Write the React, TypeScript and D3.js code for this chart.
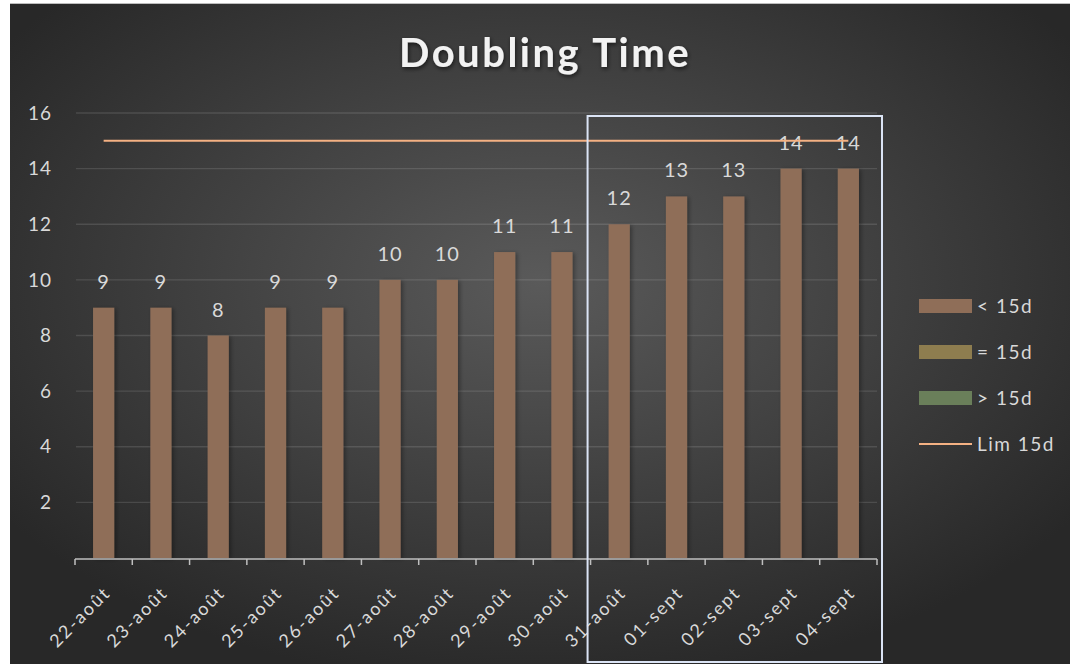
import React from "react";
import * as d3 from "d3";

const categories = ["22-août","23-août","24-août","25-août","26-août","27-août","28-août","29-août","30-août","31-août","01-sept","02-sept","03-sept","04-sept"];
const values = [9, 9, 8, 9, 9, 10, 10, 11, 11, 12, 13, 13, 14, 14];
const limitValue = 15;
const yTicks = [2, 4, 6, 8, 10, 12, 14, 16];
const legendItems = [
  { label: "< 15d", color: "#8f6e58", type: "rect" },
  { label: "= 15d", color: "#8e7d4f", type: "rect" },
  { label: "> 15d", color: "#6a7f5a", type: "rect" },
  { label: "Lim 15d", color: "#f4b183", type: "line" },
];
const highlightFrom = "31-août";

const W = 1070, H = 664;
const FONT = "Lato, 'Open Sans', sans-serif";

export default function App() {
  const x = d3.scaleBand<string>().domain(categories).range([75, 877]).paddingInner(0.63).paddingOuter(0.315);
  const xb = d3.scaleBand<string>().domain(categories).range([75, 877]);
  const y = d3.scaleLinear().domain([0, 16]).range([558, 113]);
  const hiX0 = xb(highlightFrom)! - 3;

  return (
    <svg width={W} height={H} style={{ position: "absolute", left: 0, top: 0 }} fontFamily={FONT}>
      <defs>
        <radialGradient id="bg" cx="50%" cy="42%" r="62%">
          <stop offset="0%" stopColor="#5a5a5a" />
          <stop offset="100%" stopColor="#282828" />
        </radialGradient>
        <filter id="tshadow" x="-10%" y="-30%" width="120%" height="160%">
          <feDropShadow dx="1" dy="2" stdDeviation="2" floodColor="#000" floodOpacity="0.6" />
        </filter>
        <filter id="bshadow" x="-30%" y="-10%" width="160%" height="120%">
          <feDropShadow dx="2" dy="1" stdDeviation="2" floodColor="#000" floodOpacity="0.35" />
        </filter>
      </defs>
      <rect x={0} y={0} width={W} height={H} fill="#ffffff" />
      <rect x={10} y={4} width={W - 10} height={H - 4} fill="url(#bg)" />
      <line x1={10} x2={W} y1={3.5} y2={3.5} stroke="#bdbdbd" strokeWidth={1} />

      <text x={545} y={67} textAnchor="middle" fontSize={40} fontWeight="bold" letterSpacing={2.5} fill="#f2f2f2" filter="url(#tshadow)">Doubling Time</text>

      {yTicks.map((t) => (
        <g key={t}>
          <line x1={76} x2={877} y1={y(t)} y2={y(t)} stroke="#ffffff" strokeOpacity={0.12} strokeWidth={1.3} />
          <text x={52} y={y(t)} dy="0.35em" textAnchor="end" fontSize={19} letterSpacing={1} fill="#d9d9d9">{t}</text>
        </g>
      ))}

      {categories.map((c, i) => (
        <g key={c}>
          <rect x={x(c)!} y={y(values[i])} width={x.bandwidth()} height={y(0) - y(values[i])} fill="#8f6e58" filter="url(#bshadow)" />
          <text x={x(c)! + x.bandwidth() / 2} y={y(values[i]) - 19} textAnchor="middle" fontSize={20} letterSpacing={1} fill="#d9d9d9">{values[i]}</text>
        </g>
      ))}

      <line x1={xb(categories[0])! + xb.bandwidth() / 2} x2={xb(categories[categories.length - 1])! + xb.bandwidth() / 2}
        y1={y(limitValue)} y2={y(limitValue)} stroke="#f4b183" strokeWidth={2} />

      <line x1={75} x2={877} y1={559} y2={559} stroke="#bfbfbf" strokeWidth={1.5} />
      {[...categories.map((c) => xb(c)!), 877].map((t, i) => (
        <line key={i} x1={t} x2={t} y1={559} y2={565} stroke="#bfbfbf" strokeWidth={1.5} />
      ))}
      {categories.map((c) => {
        const cx = xb(c)! + xb.bandwidth() / 2 + 8;
        return (
          <text key={c} transform={`translate(${cx},${594}) rotate(-45)`} textAnchor="end" fontSize={18} letterSpacing={2} fill="#d9d9d9">{c}</text>
        );
      })}

      <rect x={hiX0} y={116} width={882 - hiX0} height={546} fill="none" stroke="#dbe4f5" strokeWidth={2} />

      {legendItems.map((it, i) => {
        const cy = 306 + i * 46;
        return (
          <g key={it.label}>
            {it.type === "rect" ? (
              <rect x={919} y={cy - 7} width={53} height={14} fill={it.color} />
            ) : (
              <line x1={919} x2={972} y1={cy} y2={cy} stroke={it.color} strokeWidth={2} />
            )}
            <text x={977} y={cy} dy="0.35em" fontSize={19} letterSpacing={1.5} fill="#d9d9d9">{it.label}</text>
          </g>
        );
      })}
    </svg>
  );
}
